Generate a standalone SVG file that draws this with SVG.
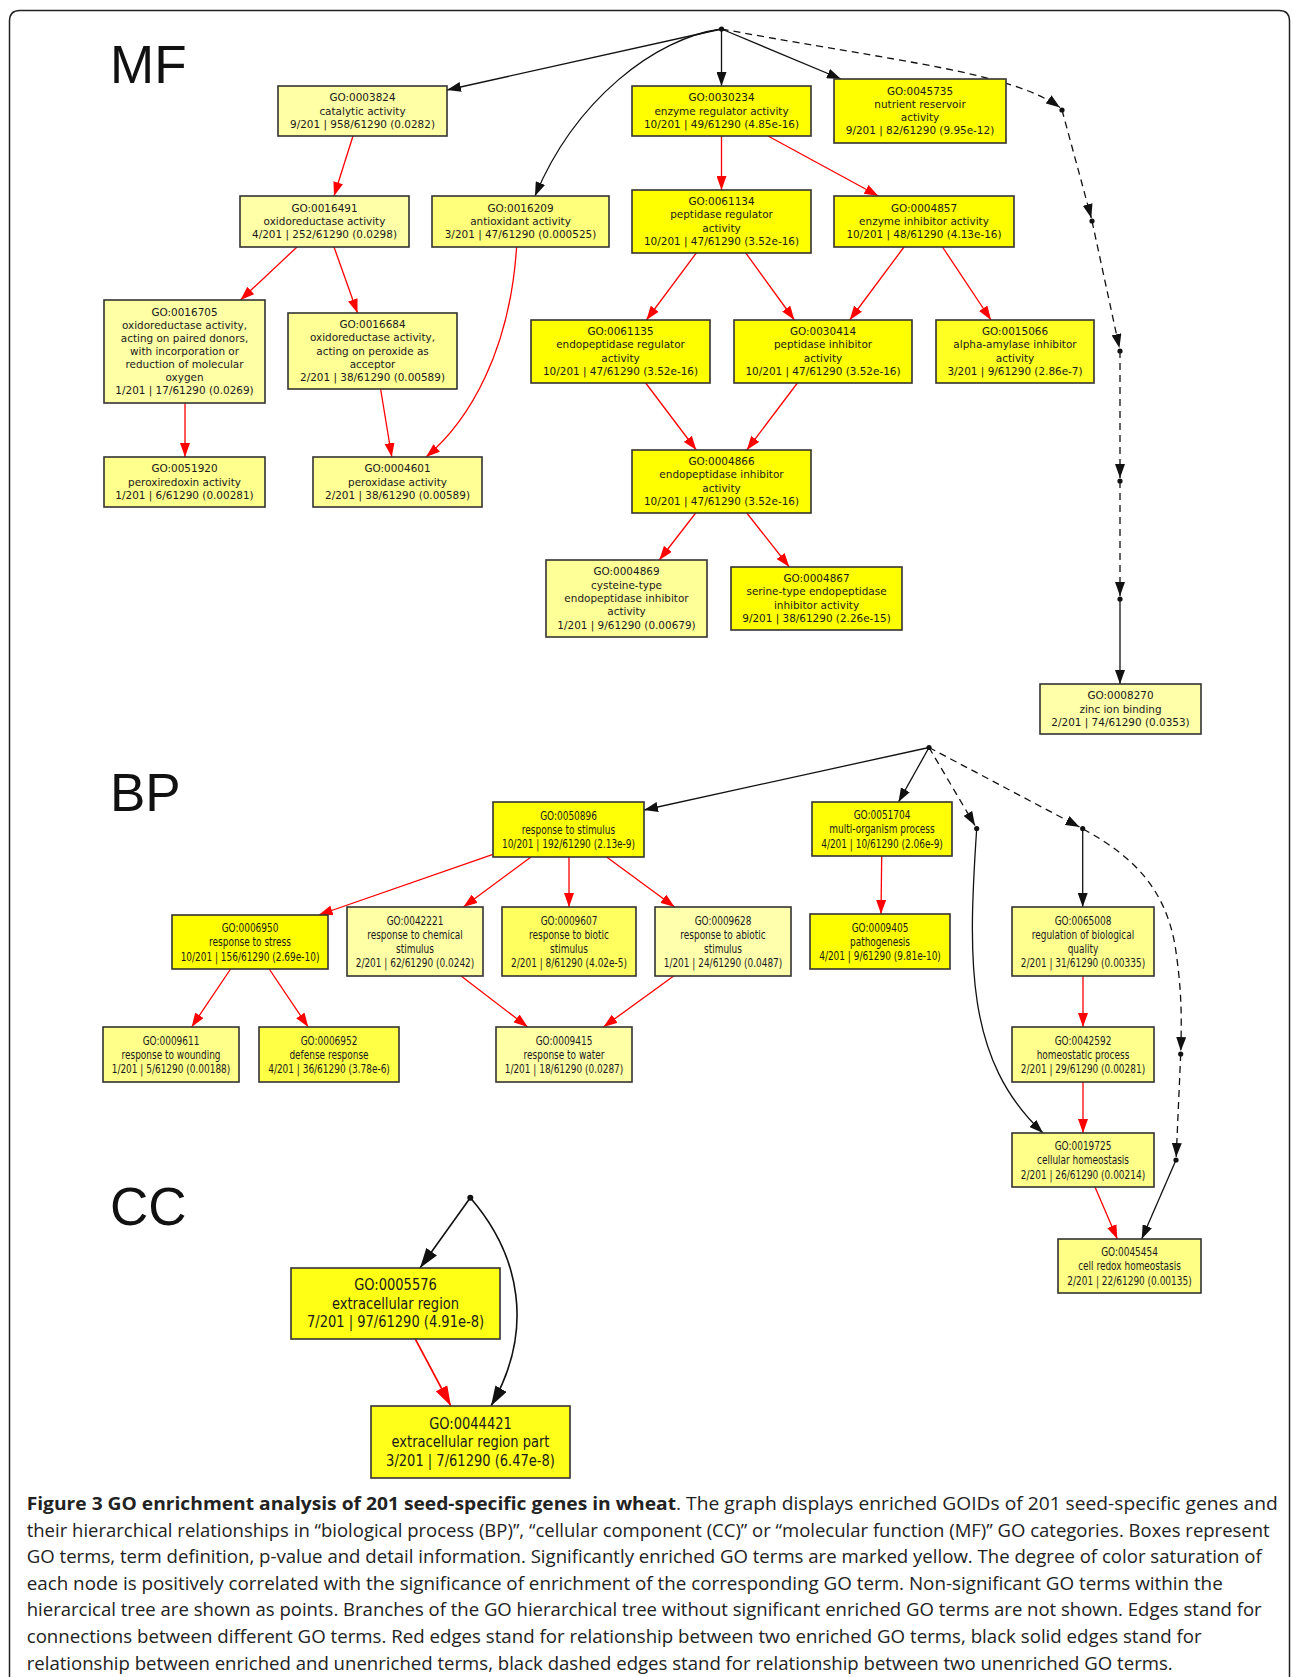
<svg xmlns="http://www.w3.org/2000/svg" width="1293" height="1677" viewBox="0 0 1293 1677">
<style>
.box{stroke:#333;stroke-width:1.6}
.t text{font-family:"DejaVu Sans","Liberation Sans",sans-serif;text-anchor:middle;dominant-baseline:central;fill:#1a1a1a}
.mf text{font-size:11px}
.bp text{font-size:11.5px}
.cc text{font-size:15px}
.red{fill:none;stroke:#f00;stroke-width:1.3}
.blk{fill:none;stroke:#111;stroke-width:1.3}
.dash{fill:none;stroke:#111;stroke-width:1.3;stroke-dasharray:7 5}
.lab{font-family:"Liberation Sans",Arial,sans-serif;font-size:53px;fill:#111}
.cap{font-family:"Open Sans","Noto Sans",sans-serif;font-size:18px;fill:#222}
</style>
<defs>
<marker id="ar" viewBox="0 0 14 10" refX="14" refY="5" markerWidth="14" markerHeight="10" orient="auto" markerUnits="userSpaceOnUse"><path d="M0,0L14,5L0,10z" fill="#f00"/></marker>
<marker id="ab" viewBox="0 0 14 10" refX="14" refY="5" markerWidth="14" markerHeight="10" orient="auto" markerUnits="userSpaceOnUse"><path d="M0,0L14,5L0,10z" fill="#111"/></marker>
<marker id="arc" viewBox="0 0 20 13" refX="20" refY="6.5" markerWidth="20" markerHeight="13" orient="auto" markerUnits="userSpaceOnUse"><path d="M0,0L20,6.5L0,13z" fill="#f00"/></marker>
<marker id="abc" viewBox="0 0 20 13" refX="20" refY="6.5" markerWidth="20" markerHeight="13" orient="auto" markerUnits="userSpaceOnUse"><path d="M0,0L20,6.5L0,13z" fill="#111"/></marker>
</defs>
<rect width="1293" height="1677" fill="#fff"/>
<path d="M9.5,1677 V21 Q9.5,10.5 20,10.5 H1279 Q1289.5,10.5 1289.5,21 V1677" fill="none" stroke="#222" stroke-width="1.5"/>

<text class="lab" x="110" y="83">MF</text>
<text class="lab" x="110" y="811">BP</text>
<text class="lab" x="110" y="1225">CC</text>

<g id="connectors">
<!-- MF -->
<path class="blk" d="M721.5,29 L447,90" marker-end="url(#ab)"/>
<path class="blk" d="M721.5,29 C655,38 575,100 535,196" marker-end="url(#ab)"/>
<path class="blk" d="M721.5,29 L721.5,86" marker-end="url(#ab)"/>
<path class="blk" d="M721.5,29 L841,79" marker-end="url(#ab)"/>
<path class="dash" d="M721.5,29 C900,62 1010,72 1060,107.5" marker-end="url(#ab)"/>
<path class="dash" d="M1062,110 L1091.3,218" marker-end="url(#ab)"/>
<path class="dash" d="M1092,221 L1119.4,348" marker-end="url(#ab)"/>
<path class="dash" d="M1120,351 L1120,478" marker-end="url(#ab)"/>
<path class="dash" d="M1120,481 L1120,596" marker-end="url(#ab)"/>
<path class="blk" d="M1120,599 L1120,684" marker-end="url(#ab)"/>
<path class="red" d="M353,136 L334,196" marker-end="url(#ar)"/>
<path class="red" d="M297,247 L240.5,300" marker-end="url(#ar)"/>
<path class="red" d="M334,247 L357.5,313" marker-end="url(#ar)"/>
<path class="red" d="M516.6,247 C510,350 470,420 426,457" marker-end="url(#ar)"/>
<path class="red" d="M185,403 L185,457" marker-end="url(#ar)"/>
<path class="red" d="M380.6,389 L391.8,457" marker-end="url(#ar)"/>
<path class="red" d="M721.5,136 L721.5,190" marker-end="url(#ar)"/>
<path class="red" d="M768,136 L878.4,196" marker-end="url(#ar)"/>
<path class="red" d="M696.3,253 L646.4,320" marker-end="url(#ar)"/>
<path class="red" d="M745.8,253 L794.4,320" marker-end="url(#ar)"/>
<path class="red" d="M904,247 L849.7,320" marker-end="url(#ar)"/>
<path class="red" d="M942.5,247 L991,320" marker-end="url(#ar)"/>
<path class="red" d="M645.7,383 L696.3,450" marker-end="url(#ar)"/>
<path class="red" d="M797.4,383 L746.8,450" marker-end="url(#ar)"/>
<path class="red" d="M695.7,513 L659.3,560" marker-end="url(#ar)"/>
<path class="red" d="M746.8,513 L789.3,567" marker-end="url(#ar)"/>
<!-- BP -->
<path class="blk" d="M929,747.5 L644,810" marker-end="url(#ab)"/>
<path class="blk" d="M929,747.5 L898.5,802" marker-end="url(#ab)"/>
<path class="dash" d="M929,747.5 L975,825.5" marker-end="url(#ab)"/>
<path class="dash" d="M929,747.5 L1079.5,827" marker-end="url(#ab)"/>
<path class="dash" d="M1083,829 C1135,857 1165,890 1175,945 C1181,985 1182,1010 1180.8,1051" marker-end="url(#ab)"/>
<path class="blk" d="M976.7,828.5 C968,960 965,1060 1043,1133" marker-end="url(#ab)"/>
<path class="blk" d="M1082.7,828.5 L1082.7,907" marker-end="url(#ab)"/>
<path class="red" d="M1083,976 L1083,1027" marker-end="url(#ar)"/>
<path class="red" d="M1083,1082 L1083,1133" marker-end="url(#ar)"/>
<path class="dash" d="M1180.7,1054 L1176.2,1157" marker-end="url(#ab)"/>
<path class="blk" d="M1176,1160 L1141.7,1239" marker-end="url(#ab)"/>
<path class="red" d="M1095,1187 L1117.3,1239" marker-end="url(#ar)"/>
<path class="red" d="M881.7,856 L881,914" marker-end="url(#ar)"/>
<path class="red" d="M493,854.3 L318.7,915" marker-end="url(#ar)"/>
<path class="red" d="M531,857 L463.4,907" marker-end="url(#ar)"/>
<path class="red" d="M569,857 L569,907" marker-end="url(#ar)"/>
<path class="red" d="M606.6,857 L674.6,907" marker-end="url(#ar)"/>
<path class="red" d="M230.6,969 L191.6,1027" marker-end="url(#ar)"/>
<path class="red" d="M269.2,969 L308.2,1027" marker-end="url(#ar)"/>
<path class="red" d="M461.1,976 L527.7,1027" marker-end="url(#ar)"/>
<path class="red" d="M673.7,976 L603.4,1027" marker-end="url(#ar)"/>
<!-- CC -->
<path class="blk" d="M470.3,1197.7 L420,1268" marker-end="url(#abc)" style="stroke-width:1.6"/>
<path class="blk" d="M470.3,1197.7 C520,1255 535,1330 491,1406" marker-end="url(#abc)" style="stroke-width:1.6"/>
<path class="red" d="M415.3,1339 L450.9,1406" marker-end="url(#arc)" style="stroke-width:1.6"/>
</g>

<g id="points" fill="#111">
<circle cx="721.5" cy="29" r="2.6"/>
<circle cx="1062" cy="110" r="2.6"/>
<circle cx="1092" cy="221" r="2.6"/>
<circle cx="1120" cy="351" r="2.6"/>
<circle cx="1120" cy="481" r="2.6"/>
<circle cx="1120" cy="599" r="2.6"/>
<circle cx="929" cy="747.5" r="2.6"/>
<circle cx="976.7" cy="828.5" r="2.6"/>
<circle cx="1082.7" cy="828.5" r="2.6"/>
<circle cx="1180.7" cy="1054" r="2.6"/>
<circle cx="1176" cy="1160" r="2.6"/>
<circle cx="470.3" cy="1197.7" r="3"/>
</g>

<!-- MF nodes -->
<g id="GO0003824" class="t mf"><rect class="box" x="278" y="86" width="169" height="50" fill="#ffffa6"/><g transform="translate(362.5 0) scale(0.95 1)"><text y="97.7">GO:0003824</text><text y="111">catalytic activity</text><text y="124.3">9/201 | 958/61290 (0.0282)</text></g></g>
<g id="GO0016491" class="t mf"><rect class="box" x="240" y="196" width="169" height="51" fill="#ffffa7"/><g transform="translate(324.5 0) scale(0.95 1)"><text y="208.2">GO:0016491</text><text y="221.5">oxidoreductase activity</text><text y="234.8">4/201 | 252/61290 (0.0298)</text></g></g>
<g id="GO0016209" class="t mf"><rect class="box" x="432" y="196" width="177" height="51" fill="#ffff7b"/><g transform="translate(520.5 0) scale(0.95 1)"><text y="208.2">GO:0016209</text><text y="221.5">antioxidant activity</text><text y="234.8">3/201 | 47/61290 (0.000525)</text></g></g>
<g id="GO0016705" class="t mf"><rect class="box" x="104" y="300" width="161" height="103" fill="#ffffa6"/><g transform="translate(184.5 0) scale(0.95 1)"><text y="312.2">GO:0016705</text><text y="325.3">oxidoreductase activity,</text><text y="338.4">acting on paired donors,</text><text y="351.5">with incorporation or</text><text y="364.6">reduction of molecular</text><text y="377.7">oxygen</text><text y="390.8">1/201 | 17/61290 (0.0269)</text></g></g>
<g id="GO0016684" class="t mf"><rect class="box" x="288" y="313" width="169" height="76" fill="#ffff95"/><g transform="translate(372.5 0) scale(0.95 1)"><text y="324.4">GO:0016684</text><text y="337.7">oxidoreductase activity,</text><text y="351">acting on peroxide as</text><text y="364.3">acceptor</text><text y="377.6">2/201 | 38/61290 (0.00589)</text></g></g>
<g id="GO0051920" class="t mf"><rect class="box" x="104" y="457" width="161" height="50" fill="#ffff8d"/><g transform="translate(184.5 0) scale(0.95 1)"><text y="468.7">GO:0051920</text><text y="482">peroxiredoxin activity</text><text y="495.3">1/201 | 6/61290 (0.00281)</text></g></g>
<g id="GO0004601" class="t mf"><rect class="box" x="313" y="457" width="169" height="50" fill="#ffff95"/><g transform="translate(397.5 0) scale(0.95 1)"><text y="468.7">GO:0004601</text><text y="482">peroxidase activity</text><text y="495.3">2/201 | 38/61290 (0.00589)</text></g></g>
<g id="GO0030234" class="t mf"><rect class="box" x="632" y="86" width="179" height="50" fill="#ffff00"/><g transform="translate(721.5 0) scale(0.95 1)"><text y="97.7">GO:0030234</text><text y="111">enzyme regulator activity</text><text y="124.3">10/201 | 49/61290 (4.85e-16)</text></g></g>
<g id="GO0045735" class="t mf"><rect class="box" x="834" y="79" width="172" height="64" fill="#ffff00"/><g transform="translate(920 0) scale(0.95 1)"><text y="91">GO:0045735</text><text y="104.3">nutrient reservoir</text><text y="117.6">activity</text><text y="130.9">9/201 | 82/61290 (9.95e-12)</text></g></g>
<g id="GO0061134" class="t mf"><rect class="box" x="632" y="190" width="179" height="63" fill="#ffff00"/><g transform="translate(721.5 0) scale(0.95 1)"><text y="201.5">GO:0061134</text><text y="214.8">peptidase regulator</text><text y="228.1">activity</text><text y="241.4">10/201 | 47/61290 (3.52e-16)</text></g></g>
<g id="GO0004857" class="t mf"><rect class="box" x="834" y="196" width="180" height="51" fill="#ffff00"/><g transform="translate(924 0) scale(0.95 1)"><text y="208.2">GO:0004857</text><text y="221.5">enzyme inhibitor activity</text><text y="234.8">10/201 | 48/61290 (4.13e-16)</text></g></g>
<g id="GO0061135" class="t mf"><rect class="box" x="531" y="320" width="179" height="63" fill="#ffff00"/><g transform="translate(620.5 0) scale(0.95 1)"><text y="331.5">GO:0061135</text><text y="344.8">endopeptidase regulator</text><text y="358.1">activity</text><text y="371.4">10/201 | 47/61290 (3.52e-16)</text></g></g>
<g id="GO0030414" class="t mf"><rect class="box" x="734" y="320" width="178" height="63" fill="#ffff00"/><g transform="translate(823 0) scale(0.95 1)"><text y="331.5">GO:0030414</text><text y="344.8">peptidase inhibitor</text><text y="358.1">activity</text><text y="371.4">10/201 | 47/61290 (3.52e-16)</text></g></g>
<g id="GO0015066" class="t mf"><rect class="box" x="936" y="320" width="158" height="63" fill="#ffff22"/><g transform="translate(1015 0) scale(0.95 1)"><text y="331.5">GO:0015066</text><text y="344.8">alpha-amylase inhibitor</text><text y="358.1">activity</text><text y="371.4">3/201 | 9/61290 (2.86e-7)</text></g></g>
<g id="GO0004866" class="t mf"><rect class="box" x="632" y="450" width="179" height="63" fill="#ffff00"/><g transform="translate(721.5 0) scale(0.95 1)"><text y="461.5">GO:0004866</text><text y="474.8">endopeptidase inhibitor</text><text y="488.1">activity</text><text y="501.4">10/201 | 47/61290 (3.52e-16)</text></g></g>
<g id="GO0004869" class="t mf"><rect class="box" x="546" y="560" width="161" height="77" fill="#ffff97"/><g transform="translate(626.5 0) scale(0.95 1)"><text y="571.9">GO:0004869</text><text y="585.2">cysteine-type</text><text y="598.5">endopeptidase inhibitor</text><text y="611.8">activity</text><text y="625.1">1/201 | 9/61290 (0.00679)</text></g></g>
<g id="GO0004867" class="t mf"><rect class="box" x="731" y="567" width="171" height="63" fill="#ffff00"/><g transform="translate(816.5 0) scale(0.95 1)"><text y="578.5">GO:0004867</text><text y="591.8">serine-type endopeptidase</text><text y="605.1">inhibitor activity</text><text y="618.4">9/201 | 38/61290 (2.26e-15)</text></g></g>
<g id="GO0008270" class="t mf"><rect class="box" x="1040" y="684" width="161" height="50" fill="#ffffa9"/><g transform="translate(1120.5 0) scale(0.95 1)"><text y="695.7">GO:0008270</text><text y="709">zinc ion binding</text><text y="722.3">2/201 | 74/61290 (0.0353)</text></g></g>

<!-- BP nodes -->
<g id="GO0050896" class="t bp"><rect class="box" x="493" y="802" width="151" height="55" fill="#ffff05"/><g transform="translate(568.5 0) scale(0.78 1)"><text y="815.3">GO:0050896</text><text y="829.5">response to stimulus</text><text y="843.7">10/201 | 192/61290 (2.13e-9)</text></g></g>
<g id="GO0006950" class="t bp"><rect class="box" x="172" y="915" width="156" height="54" fill="#ffff00"/><g transform="translate(250 0) scale(0.78 1)"><text y="927.8">GO:0006950</text><text y="942">response to stress</text><text y="956.2">10/201 | 156/61290 (2.69e-10)</text></g></g>
<g id="GO0042221" class="t bp"><rect class="box" x="347" y="907" width="136" height="69" fill="#ffffa5"/><g transform="translate(415 0) scale(0.78 1)"><text y="920.2">GO:0042221</text><text y="934.4">response to chemical</text><text y="948.6">stimulus</text><text y="962.8">2/201 | 62/61290 (0.0242)</text></g></g>
<g id="GO0009607" class="t bp"><rect class="box" x="502" y="907" width="134" height="69" fill="#ffff5f"/><g transform="translate(569 0) scale(0.78 1)"><text y="920.2">GO:0009607</text><text y="934.4">response to biotic</text><text y="948.6">stimulus</text><text y="962.8">2/201 | 8/61290 (4.02e-5)</text></g></g>
<g id="GO0009628" class="t bp"><rect class="box" x="655" y="907" width="136" height="69" fill="#ffffac"/><g transform="translate(723 0) scale(0.78 1)"><text y="920.2">GO:0009628</text><text y="934.4">response to abiotic</text><text y="948.6">stimulus</text><text y="962.8">1/201 | 24/61290 (0.0487)</text></g></g>
<g id="GO0009611" class="t bp"><rect class="box" x="103" y="1027" width="136" height="55" fill="#ffff89"/><g transform="translate(171 0) scale(0.78 1)"><text y="1040.3">GO:0009611</text><text y="1054.5">response to wounding</text><text y="1068.7">1/201 | 5/61290 (0.00188)</text></g></g>
<g id="GO0006952" class="t bp"><rect class="box" x="259" y="1027" width="140" height="55" fill="#ffff46"/><g transform="translate(329 0) scale(0.78 1)"><text y="1040.3">GO:0006952</text><text y="1054.5">defense response</text><text y="1068.7">4/201 | 36/61290 (3.78e-6)</text></g></g>
<g id="GO0009415" class="t bp"><rect class="box" x="496" y="1027" width="136" height="55" fill="#ffffa6"/><g transform="translate(564 0) scale(0.78 1)"><text y="1040.3">GO:0009415</text><text y="1054.5">response to water</text><text y="1068.7">1/201 | 18/61290 (0.0287)</text></g></g>
<g id="GO0051704" class="t bp"><rect class="box" x="812" y="802" width="140" height="54" fill="#ffff05"/><g transform="translate(882 0) scale(0.78 1)"><text y="814.8">GO:0051704</text><text y="829">multi-organism process</text><text y="843.2">4/201 | 10/61290 (2.06e-9)</text></g></g>
<g id="GO0009405" class="t bp"><rect class="box" x="810" y="914" width="140" height="55" fill="#ffff00"/><g transform="translate(880 0) scale(0.78 1)"><text y="927.3">GO:0009405</text><text y="941.5">pathogenesis</text><text y="955.7">4/201 | 9/61290 (9.81e-10)</text></g></g>
<g id="GO0065008" class="t bp"><rect class="box" x="1012" y="907" width="142" height="69" fill="#ffff8f"/><g transform="translate(1083 0) scale(0.78 1)"><text y="920.2">GO:0065008</text><text y="934.4">regulation of biological</text><text y="948.6">quality</text><text y="962.8">2/201 | 31/61290 (0.00335)</text></g></g>
<g id="GO0042592" class="t bp"><rect class="box" x="1012" y="1027" width="142" height="55" fill="#ffff8d"/><g transform="translate(1083 0) scale(0.78 1)"><text y="1040.3">GO:0042592</text><text y="1054.5">homeostatic process</text><text y="1068.7">2/201 | 29/61290 (0.00281)</text></g></g>
<g id="GO0019725" class="t bp"><rect class="box" x="1012" y="1133" width="142" height="54" fill="#ffff8a"/><g transform="translate(1083 0) scale(0.78 1)"><text y="1145.8">GO:0019725</text><text y="1160">cellular homeostasis</text><text y="1174.2">2/201 | 26/61290 (0.00214)</text></g></g>
<g id="GO0045454" class="t bp"><rect class="box" x="1058" y="1239" width="143" height="54" fill="#ffff85"/><g transform="translate(1129.5 0) scale(0.78 1)"><text y="1251.8">GO:0045454</text><text y="1266">cell redox homeostasis</text><text y="1280.2">2/201 | 22/61290 (0.00135)</text></g></g>

<!-- CC nodes -->
<g id="GO0005576" class="t cc"><rect class="box" x="291" y="1268" width="209" height="71" fill="#ffff16"/><g transform="translate(395.5 0) scale(0.87 1)"><text y="1285">GO:0005576</text><text y="1303.5">extracellular region</text><text y="1322">7/201 | 97/61290 (4.91e-8)</text></g></g>
<g id="GO0044421" class="t cc"><rect class="box" x="371" y="1406" width="199" height="72" fill="#ffff19"/><g transform="translate(470.5 0) scale(0.87 1)"><text y="1423.5">GO:0044421</text><text y="1442">extracellular region part</text><text y="1460.5">3/201 | 7/61290 (6.47e-8)</text></g></g>

<g id="caption" class="cap">
<text x="26.7" y="1510" textLength="1251" lengthAdjust="spacingAndGlyphs"><tspan font-weight="bold">Figure 3 GO enrichment analysis of 201 seed-specific genes in wheat</tspan>. The graph displays enriched GOIDs of 201 seed-specific genes and</text>
<text x="26.7" y="1537" textLength="1243" lengthAdjust="spacingAndGlyphs">their hierarchical relationships in “biological process (BP)”, “cellular component (CC)” or “molecular function (MF)” GO categories. Boxes represent</text>
<text x="26.7" y="1562.5" textLength="1235" lengthAdjust="spacingAndGlyphs">GO terms, term definition, p-value and detail information. Significantly enriched GO terms are marked yellow. The degree of color saturation of</text>
<text x="26.7" y="1589.5" textLength="1196" lengthAdjust="spacingAndGlyphs">each node is positively correlated with the significance of enrichment of the corresponding GO term. Non-significant GO terms within the</text>
<text x="26.7" y="1616" textLength="1235" lengthAdjust="spacingAndGlyphs">hierarcical tree are shown as points. Branches of the GO hierarchical tree without significant enriched GO terms are not shown. Edges stand for</text>
<text x="26.7" y="1643" textLength="1175" lengthAdjust="spacingAndGlyphs">connections between different GO terms. Red edges stand for relationship between two enriched GO terms, black solid edges stand for</text>
<text x="26.7" y="1669.5" textLength="1146" lengthAdjust="spacingAndGlyphs">relationship between enriched and unenriched terms, black dashed edges stand for relationship between two unenriched GO terms.</text>
</g>
</svg>
